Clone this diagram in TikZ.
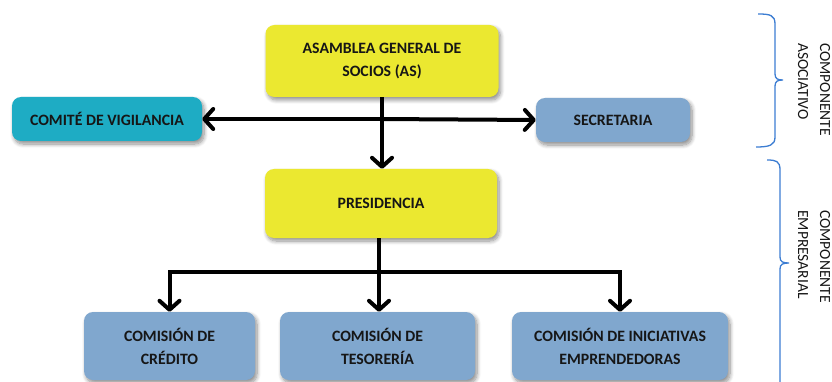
\documentclass[tikz,border=0pt]{standalone}
\usepackage{fontspec}
\setmainfont{Carlito}
\usetikzlibrary{arrows.meta,shadows,shadows.blur}
\definecolor{yel}{RGB}{235,232,48}
\definecolor{tealbox}{RGB}{30,172,196}
\definecolor{bluebox}{RGB}{128,167,206}
\definecolor{bracecol}{RGB}{60,125,210}
\definecolor{txt}{RGB}{22,22,22}
\begin{document}
\begin{tikzpicture}[x=1pt,y=-1pt,
  box/.style={rounded corners=9pt, inner sep=0pt, align=center, text=txt,
    font=\bfseries\fontsize{15.8}{23}\selectfont,
    blur shadow={shadow xshift=2pt,shadow yshift=-3pt,shadow blur radius=4pt,shadow blur steps=8,shadow opacity=45}},
  con/.style={line width=4pt, -{Straight Barb[length=9pt,width=20pt,round]}},
  bracepath/.style={draw=bracecol, line width=1.3pt},
  sidelabel/.style={rotate=-90, anchor=west, inner sep=0pt, align=left,
    font=\fontsize{15.5}{22}\selectfont, text=txt}
]
\useasboundingbox (0,0) rectangle (832,382);

% nodes
\node[box, fill=yel, minimum width=233pt, minimum height=72pt] (as) at (382,61) {ASAMBLEA GENERAL DE\\SOCIOS (AS)};
\node[box, fill=tealbox, minimum width=190pt, minimum height=44pt] (comite) at (107,119) {COMITÉ DE VIGILANCIA};
\node[box, fill=bluebox, minimum width=154pt, minimum height=44pt] (sec) at (613,120) {SECRETARIA};
\node[box, fill=yel, minimum width=232pt, minimum height=69pt] (pres) at (381,203.5) {PRESIDENCIA};
\node[box, fill=bluebox, minimum width=171pt, minimum height=68pt] (c1) at (169.5,346) {COMISIÓN DE\\CRÉDITO};
\node[box, fill=bluebox, minimum width=195pt, minimum height=68pt] (c2) at (377.5,346) {COMISIÓN DE\\TESORERÍA};
\node[box, fill=bluebox, minimum width=216pt, minimum height=68pt] (c3) at (620,346) {COMISIÓN DE INICIATIVAS\\EMPRENDEDORAS};

% connectors
\coordinate (j1) at (380,119);
\coordinate (j2) at (379,272);
\draw[con] (as.south) -- (as.south |- pres.north);
\draw[con] (j1) -- (comite.east);
\draw[con] (j1) -- (sec.west);
\draw[line width=4pt] (pres.south -| j2) -- (j2);
\draw[con] (j2) -- (j2 |- c2.north);
\draw[con] (j2) -| (c1.north);
\draw[con] (j2) -| (c3.north);

% braces
\draw[bracepath] (758,14) .. controls (770,14) and (775,15) .. (775,24)
  -- (775,74) .. controls (775,79) and (778,80) .. (783,80)
  .. controls (778,80) and (775,81) .. (775,86)
  -- (775,137) .. controls (775,145) and (770,147) .. (756,147);
\draw[bracepath] (767,160) .. controls (776,160) and (780,161) .. (780,170)
  -- (780,257) .. controls (780,262) and (783,263) .. (789,263)
  .. controls (783,263) and (780,264) .. (780,269)
  -- (780,384);

% side labels
\node[sidelabel] (lab1) at (814,43) {COMPONENTE\\ASOCIATIVO};
\node[sidelabel] (lab2) at (814,210) {COMPONENTE\\EMPRESARIAL};
\end{tikzpicture}
\end{document}
